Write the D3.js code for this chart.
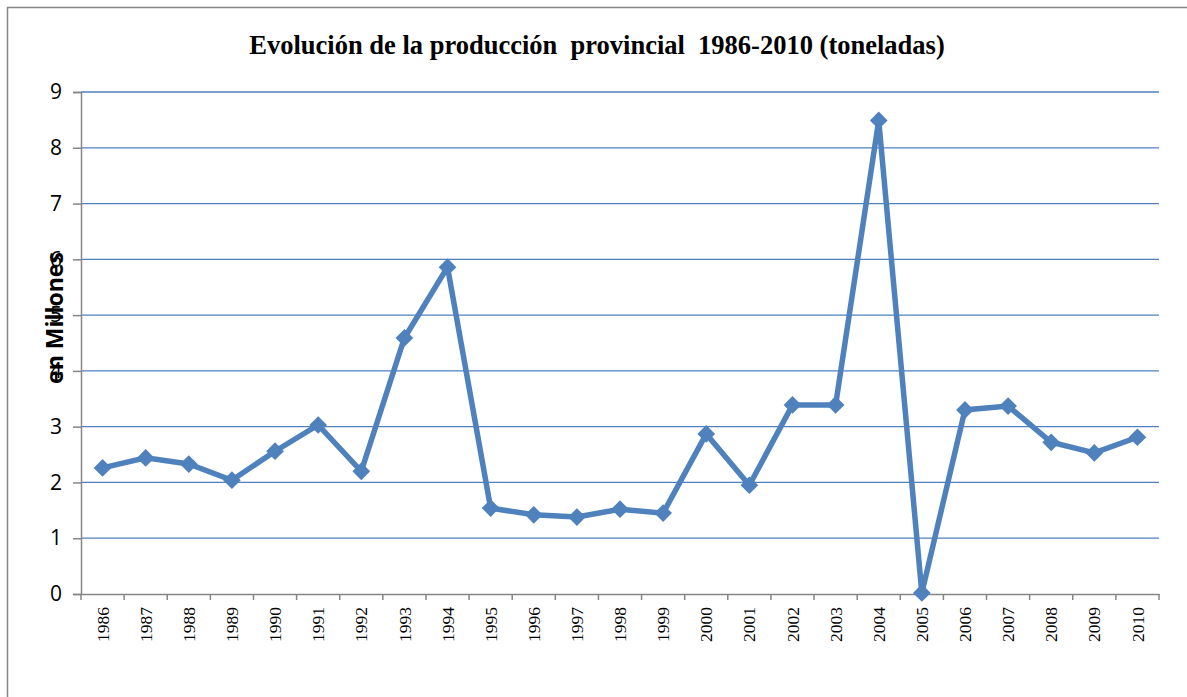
<!DOCTYPE html>
<html>
<head>
<meta charset="utf-8">
<script src="https://cdn.jsdelivr.net/npm/d3@7"></script>
<style>
  body { margin: 0; background: #fff; }
  svg { display: block; }
</style>
</head>
<body>
<div id="chart"></div>
<script>
// production in millions of tonnes
var years = ['1986','1987','1988','1989','1990','1991','1992','1993','1994','1995',
             '1996','1997','1998','1999','2000','2001','2002','2003','2004','2005',
             '2006','2007','2008','2009','2010'];
var values = [2.26, 2.44, 2.33, 2.04, 2.56, 3.03, 2.2, 4.59, 5.86, 1.54,
              1.42, 1.38, 1.52, 1.45, 2.87, 1.95, 3.39, 3.39, 8.49, 0.02,
              3.3, 3.37, 2.72, 2.53, 2.81];
var yTicks = [0, 1, 2, 3, 4, 5, 6, 7, 8, 9];

var width = 1187, height = 697;
var margin = { top: 92, right: 28, bottom: 103, left: 81 },
    innerWidth = width - margin.left - margin.right,
    innerHeight = height - margin.top - margin.bottom;

var blue = '#4F81BD', grey = '#868686';

var root = d3.select('#chart').append('svg')
  .attr('width', width)
  .attr('height', height);

// outer chart frame, runs off the right and bottom edges
root.append('path')
  .attr('d', 'M7.5,' + height + 'V7.5H' + width)
  .attr('fill', 'none')
  .attr('stroke', grey)
  .attr('stroke-width', 1.5);

root.append('text')
  .attr('x', 597).attr('y', 54)
  .attr('text-anchor', 'middle')
  .style('font-family', '"Liberation Serif", "Times New Roman", serif')
  .style('font-weight', 'bold')
  .style('font-size', '26.5px')
  .style('white-space', 'pre')
  .text('Evolución de la producción  provincial  1986-2010 (toneladas)');

var svg = root.append('g')
  .attr('transform', 'translate(' + margin.left + ',' + margin.top + ')');

var x = d3.scaleBand().domain(years).range([0, innerWidth]);
var y = d3.scaleLinear().domain([0, 9]).range([innerHeight, 0]);

// gridlines
svg.selectAll('.grid')
  .data(yTicks.slice(1))
  .enter()
  .append('line')
  .attr('class', 'grid')
  .attr('x1', 0).attr('x2', innerWidth)
  .attr('y1', function(d) { return y(d); })
  .attr('y2', function(d) { return y(d); })
  .style('stroke', blue)
  .style('stroke-width', 1.3);

// y axis
var yAxis = svg.append('g')
  .call(d3.axisLeft(y).tickValues(yTicks).tickSize(8).tickPadding(11).tickFormat(d3.format('d')));
yAxis.select('.domain').attr('stroke', grey).attr('stroke-width', 1.5);
yAxis.selectAll('.tick line').attr('stroke', grey).attr('stroke-width', 1.5);
yAxis.selectAll('.tick text')
  .style('font-family', '"Open Sans", "Liberation Sans", sans-serif')
  .style('font-size', '21px')
  .attr('fill', '#000');

// x axis with ticks on category boundaries
var xAxis = svg.append('g')
  .attr('transform', 'translate(0,' + innerHeight + ')')
  .call(d3.axisBottom(x).tickSize(0).tickSizeOuter(0));
xAxis.select('.domain').attr('stroke', grey).attr('stroke-width', 1.5);
xAxis.selectAll('.tick text')
  .attr('transform', 'rotate(-90)')
  .attr('x', -13).attr('y', 0).attr('dy', '0.35em')
  .style('text-anchor', 'end')
  .style('font-family', '"Liberation Serif", "Times New Roman", serif')
  .style('font-size', '17.5px')
  .attr('fill', '#000');

var bounds = years.map(function(d) { return x(d); }).concat([innerWidth]);
xAxis.selectAll('.bound')
  .data(bounds)
  .enter()
  .append('line')
  .attr('class', 'bound')
  .attr('x1', function(d) { return d; })
  .attr('x2', function(d) { return d; })
  .attr('y1', 0).attr('y2', 6)
  .attr('stroke', grey)
  .attr('stroke-width', 1.5);

// y axis title, overlapping tick labels as in the original
root.append('text')
  .attr('transform', 'translate(63,318) rotate(-90)')
  .attr('text-anchor', 'middle')
  .style('font-family', '"Open Sans", "Liberation Sans", sans-serif')
  .style('font-weight', 'bold')
  .style('font-size', '23px')
  .text('en Millones');

var cx = function(d, i) { return x(years[i]) + x.bandwidth() / 2; };

var line = d3.line()
  .x(cx)
  .y(function(d) { return y(d); });

svg.append('path')
  .datum(values)
  .attr('d', line)
  .attr('fill', 'none')
  .attr('stroke', blue)
  .attr('stroke-width', 5.5)
  .attr('stroke-linejoin', 'miter');

svg.selectAll('.marker')
  .data(values)
  .enter()
  .append('path')
  .attr('class', 'marker')
  .attr('d', d3.symbol().type(d3.symbolDiamond2).size(200))
  .attr('transform', function(d, i) { return 'translate(' + cx(d, i) + ',' + y(d) + ')'; })
  .attr('fill', blue);
</script>
</body>
</html>
